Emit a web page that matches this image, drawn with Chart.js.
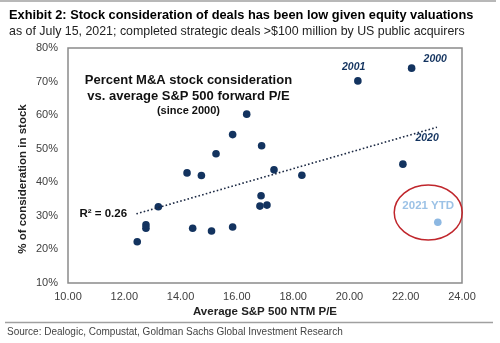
<!DOCTYPE html>
<html>
<head>
<meta charset="utf-8">
<script src="https://cdn.jsdelivr.net/npm/chart.js@4/dist/chart.umd.min.js"></script>
<style>
  html, body { margin: 0; padding: 0; background: #fff; }
  #wrap { width: 500px; height: 343px; position: relative; }
</style>
</head>
<body>
<div id="wrap"><canvas id="chart" width="500" height="343"></canvas></div>
<script>
// deals by year, 2000-2020 (order does not matter for a scatter)
var peRatio  = [12.46, 12.77, 12.77, 13.21, 14.23, 14.74, 15.26, 15.85, 16.35, 16.88, 17.32,
                18.31, 16.86, 16.82, 17.07, 14.43, 15.10, 15.85, 20.30, 22.21, 21.90];
var stockPct = [22.3, 27.3, 26.3, 32.7, 42.8, 42.0, 48.5, 54.2, 60.3, 50.9, 43.7,
                42.1, 36.0, 32.9, 33.2, 26.3, 25.5, 26.7, 70.2, 74.0, 45.4];
var ytdPE = [23.14];
var ytdPct = [28.1];
var trendPE = [12.43, 23.11];
var trendPct = [30.6, 56.4];
var xTicks = [10, 12, 14, 16, 18, 20, 22, 24];
var yTicks = [10, 20, 30, 40, 50, 60, 70, 80];

function pts(xs, ys) {
    return xs.map(function (x, i) { return { x: x, y: ys[i] }; });
}

var navy = '#13335f';
var font = "'Liberation Sans', Arial, sans-serif";

var extras = {
    id: 'extras',
    beforeDatasetsDraw: function (chart) {
        var c = chart.ctx, a = chart.chartArea;
        c.save();
        c.strokeStyle = '#8a8a8a';
        c.lineWidth = 1.5;
        c.strokeRect(a.left, a.top, a.right - a.left, a.bottom - a.top);
        c.restore();
    },
    afterDraw: function (chart) {
        var c = chart.ctx;
        var xs = chart.scales.x, ys = chart.scales.y;
        function X(v) { return xs.getPixelForValue(v); }
        function Y(v) { return ys.getPixelForValue(v); }
        c.save();
        c.textBaseline = 'middle';

        // header
        c.strokeStyle = '#a0a0a0';
        c.lineWidth = 1.5;
        c.beginPath(); c.moveTo(0, 1); c.lineTo(496, 1); c.stroke();
        c.fillStyle = '#000';
        c.textAlign = 'left';
        c.font = 'bold 12.8px ' + font;
        c.fillText('Exhibit 2: Stock consideration of deals has been low given equity valuations', 9, 15);
        c.fillStyle = '#222';
        c.font = '12.4px ' + font;
        c.fillText('as of July 15, 2021; completed strategic deals >$100 million by US public acquirers', 9, 32);

        // footer
        c.strokeStyle = '#a0a0a0';
        c.beginPath(); c.moveTo(5, 322.5); c.lineTo(493, 322.5); c.stroke();
        c.fillStyle = '#444';
        c.font = '10px ' + font;
        c.fillText('Source: Dealogic, Compustat, Goldman Sachs Global Investment Research', 7, 332);

        // y axis title
        c.save();
        c.translate(23, 179);
        c.rotate(-Math.PI / 2);
        c.textAlign = 'center';
        c.fillStyle = '#222';
        c.font = 'bold 11.5px ' + font;
        c.fillText('% of consideration in stock', 0, 0);
        c.restore();

        // in-chart caption
        c.textAlign = 'center';
        c.fillStyle = '#111';
        c.font = 'bold 13px ' + font;
        c.fillText('Percent M&A stock consideration', X(14.28), Y(70.2));
        c.fillText('vs. average S&P 500 forward P/E', X(14.28), Y(65.7));
        c.font = 'bold 11px ' + font;
        c.fillText('(since 2000)', X(14.28), Y(61.2));

        c.textAlign = 'right';
        c.font = 'bold 11.5px ' + font;
        c.fillText('R\u00b2 = 0.26', X(12.1), Y(30.6));

        // year labels
        c.textAlign = 'center';
        c.fillStyle = navy;
        c.font = 'italic bold 10.5px ' + font;
        c.fillText('2001', X(20.15), Y(74.3));
        c.fillText('2000', X(23.05), Y(76.7));
        c.fillText('2020', X(22.76), Y(53.2));

        c.fillStyle = '#9cc2e6';
        c.font = 'bold 11.5px ' + font;
        c.fillText('2021 YTD', X(22.80), Y(32.9));

        // red circle round the 2021 point
        c.strokeStyle = '#c0262c';
        c.lineWidth = 1.5;
        c.beginPath();
        c.ellipse(X(22.80), Y(31.0), 34, 27.5, 0, 0, Math.PI * 2);
        c.stroke();
        c.restore();
    }
};

var ctx = document.getElementById('chart').getContext('2d');
var myChart = new Chart(ctx, {
    type: 'scatter',
    data: {
        datasets: [{
            label: 'trend',
            type: 'line',
            data: pts(trendPE, trendPct),
            borderColor: '#1d2a44',
            borderWidth: 1.6,
            borderDash: [1.6, 2.2],
            pointRadius: 0,
            fill: false
        }, {
            label: '2000-2020',
            data: pts(peRatio, stockPct),
            backgroundColor: navy,
            borderColor: navy,
            pointRadius: 3.8,
            borderWidth: 0
        }, {
            label: '2021 YTD',
            data: pts(ytdPE, ytdPct),
            backgroundColor: '#8db8e2',
            borderColor: '#8db8e2',
            pointRadius: 3.8,
            borderWidth: 0
        }]
    },
    options: {
        responsive: false,
        animation: false,
        layout: { padding: { left: 10, top: 48, right: 38, bottom: 20 } },
        plugins: {
            legend: { display: false },
            tooltip: { enabled: false }
        },
        scales: {
            x: {
                type: 'linear',
                min: 10,
                max: 24,
                afterFit: function (s) { s.height = 40; },
                afterBuildTicks: function (s) { s.ticks = xTicks.map(function (v) { return { value: v }; }); },
                grid: { display: false, drawTicks: false },
                border: { display: false },
                ticks: {
                    padding: 7,
                    color: '#404040',
                    font: { family: font, size: 11 },
                    callback: function (v) { return v.toFixed(2); }
                },
                title: {
                    display: true,
                    text: 'Average S&P 500 NTM P/E',
                    color: '#222',
                    font: { family: font, size: 11.5, weight: 'bold' },
                    padding: { top: 2, bottom: 4 }
                }
            },
            y: {
                min: 10,
                max: 80,
                afterFit: function (s) { s.width = 58; },
                afterBuildTicks: function (s) { s.ticks = yTicks.map(function (v) { return { value: v }; }); },
                grid: { display: false, drawTicks: false },
                border: { display: false },
                ticks: {
                    padding: 10,
                    color: '#404040',
                    font: { family: font, size: 11 },
                    callback: function (v) { return v + '%'; }
                }
            }
        }
    },
    plugins: [extras]
});
</script>
</body>
</html>
